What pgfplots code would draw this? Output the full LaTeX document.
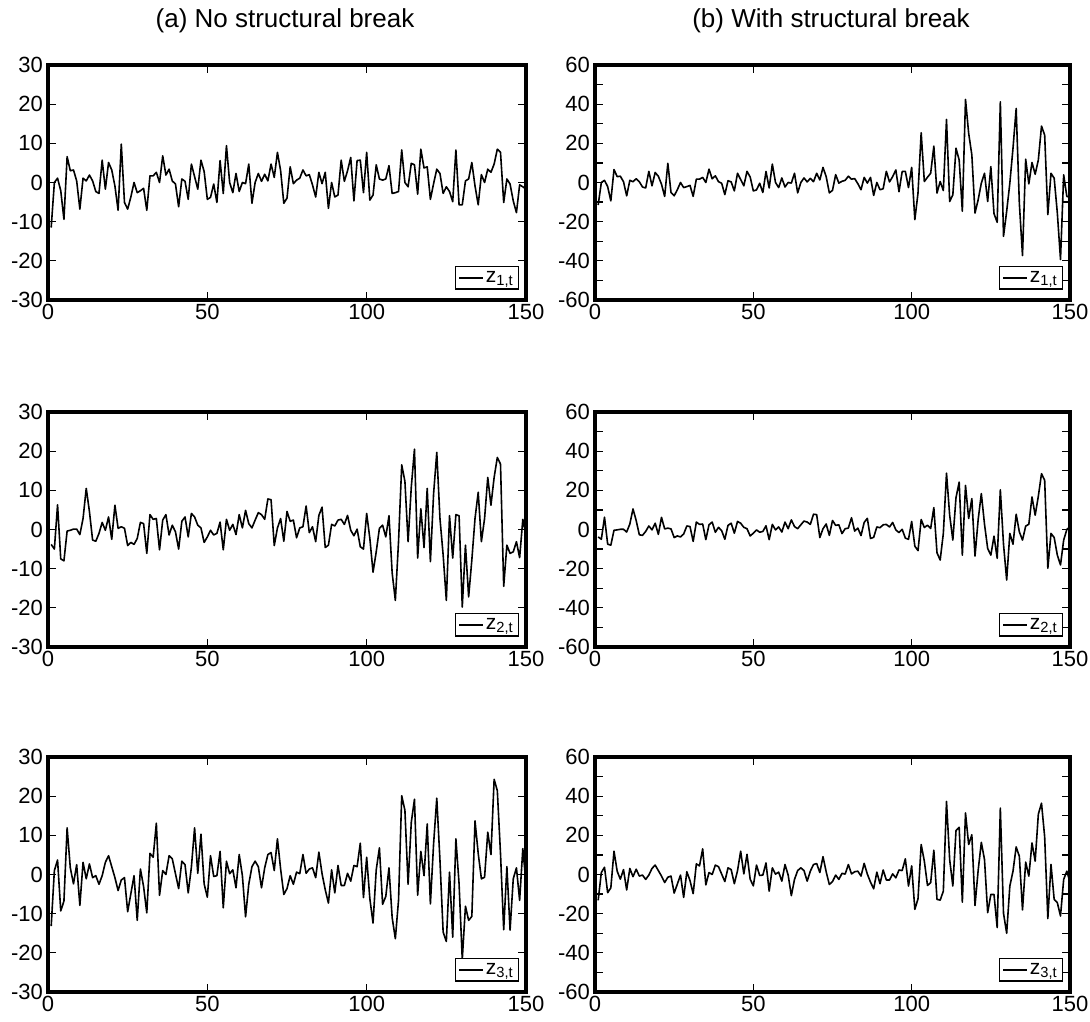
\documentclass[border=0pt]{standalone}
\usepackage{fontspec}
\setmainfont{Liberation Sans}
\usepackage{pgfplots}
\usepackage{pgfplotstable}
\pgfplotsset{compat=1.18}

% t, no-break series a1..a3, break series b1..b3 (b = a up to t = 100)
\pgfplotstableread{
t a1 a2 a3 b1 b2 b3
1 -11.5 -3.8 -13.2 -11.5 -3.8 -13.2
2 0 -5.0 1.0 0 -5.0 1.0
3 1.1 6.3 3.7 1.1 6.3 3.7
4 -2.1 -7.5 -9.3 -2.1 -7.5 -9.3
5 -9.4 -8.0 -6.8 -9.4 -8.0 -6.8
6 6.6 -0.4 11.9 6.6 -0.4 11.9
7 3.0 -0.2 1.7 3.0 -0.2 1.7
8 3.2 0.1 -2.4 3.2 0.1 -2.4
9 0.4 0.1 2.5 0.4 0.1 2.5
10 -6.8 -1.3 -7.9 -6.8 -1.3 -7.9
11 1.1 2.8 3.1 1.1 2.8 3.1
12 0.4 10.5 -1.1 0.4 10.5 -1.1
13 1.9 4.6 2.7 1.9 4.6 2.7
14 0.4 -2.7 -0.8 0.4 -2.7 -0.8
15 -2.3 -3.0 -0.3 -2.3 -3.0 -0.3
16 -2.8 -1.0 -2.5 -2.8 -1.0 -2.5
17 5.7 1.8 -0.3 5.7 1.8 -0.3
18 -1.7 -0.2 3.1 -1.7 -0.2 3.1
19 5.1 3.2 4.8 5.1 3.2 4.8
20 3.2 -2.5 2.0 3.2 -2.5 2.0
21 -0.9 6.2 -0.8 -0.9 6.2 -0.8
22 -7.1 0.3 -4.1 -7.1 0.3 -4.1
23 9.8 0.7 -1.4 9.8 0.7 -1.4
24 -5.1 0.3 -0.8 -5.1 0.3 -0.8
25 -6.8 -4.1 -9.5 -6.8 -4.1 -9.5
26 -3.7 -3.3 -4.9 -3.7 -3.3 -4.9
27 0 -3.8 -0.3 0 -3.8 -0.3
28 -2.6 -2.3 -11.7 -2.6 -2.3 -11.7
29 -2.1 1.8 1.4 -2.1 1.8 1.4
30 -1.5 1.5 -3.1 -1.5 1.5 -3.1
31 -7.1 -6.1 -9.8 -7.1 -6.1 -9.8
32 1.7 3.8 5.4 1.7 3.8 5.4
33 1.7 2.6 4.4 1.7 2.6 4.4
34 2.6 2.8 13.1 2.6 2.8 13.1
35 0 -5.2 -5.3 0 -5.2 -5.3
36 6.8 2.4 1.0 6.8 2.4 1.0
37 1.9 3.8 0 1.9 3.8 0
38 3.4 -1.4 4.8 3.4 -1.4 4.8
39 0.4 1.1 4.0 0.4 1.1 4.0
40 -0.4 -0.6 0.2 -0.4 -0.6 0.2
41 -6.2 -5.0 -3.6 -6.2 -5.0 -3.6
42 0.9 2.1 3.4 0.9 2.1 3.4
43 0.3 3.2 2.5 0.3 3.2 2.5
44 -4.3 -1.9 -4.7 -4.3 -1.9 -4.7
45 4.7 4.1 1.9 4.7 4.1 1.9
46 1.5 3.2 11.9 1.5 3.2 11.9
47 -1.7 1.1 0.3 -1.7 1.1 0.3
48 5.7 0.4 10.3 5.7 0.4 10.3
49 2.8 -3.3 -2.4 2.8 -3.3 -2.4
50 -4.3 -1.9 -5.8 -4.3 -1.9 -5.8
51 -3.8 -0.2 4.8 -3.8 -0.2 4.8
52 -0.4 -1.4 -0.5 -0.4 -1.4 -0.5
53 -5.1 -1.0 -0.3 -5.1 -1.0 -0.3
54 5.6 1.9 5.9 5.6 1.9 5.9
55 -2.8 -5.2 -8.5 -2.8 -5.2 -8.5
56 9.4 2.6 3.4 9.4 2.6 3.4
57 0 -0.2 0.2 0 -0.2 0.2
58 -2.6 1.3 1.2 -2.6 1.3 1.2
59 2.3 -1.3 -3.4 2.3 -1.3 -3.4
60 -2.3 3.8 5.1 -2.3 3.8 5.1
61 0 0.4 -0.3 0 0.4 -0.3
62 -0.3 4.9 -10.8 -0.3 4.9 -10.8
63 4.7 1.5 -2.5 4.7 1.5 -2.5
64 -5.3 0.4 2.0 -5.3 0.4 2.0
65 0 2.4 3.4 0 2.4 3.4
66 2.3 4.3 2.0 2.3 4.3 2.0
67 0.3 3.8 -3.4 0.3 3.8 -3.4
68 2.1 2.6 1.7 2.1 2.6 1.7
69 0.4 7.8 5.1 0.4 7.8 5.1
70 4.7 7.6 5.6 4.7 7.6 5.6
71 1.3 -4.1 1.0 1.3 -4.1 1.0
72 7.7 0.4 9.1 7.7 0.4 9.1
73 3.0 2.8 1.4 3.0 2.8 1.4
74 -5.3 -3.0 -5.1 -5.3 -3.0 -5.1
75 -4.0 4.6 -3.6 -4.0 4.6 -3.6
76 4.0 2.1 -0.3 4.0 2.1 -0.3
77 -0.3 2.4 -2.5 -0.3 2.4 -2.5
78 0.6 -2.1 0.6 0.6 -2.1 0.6
79 1.1 0.4 0.2 1.1 0.4 0.2
80 3.2 0.7 5.1 3.2 0.7 5.1
81 1.7 6.0 0.3 1.7 6.0 0.3
82 2.0 -0.8 1.4 2.0 -0.8 1.4
83 -0.6 0.7 1.7 -0.6 0.7 1.7
84 -3.7 -3.1 -0.8 -3.7 -3.1 -0.8
85 2.6 3.6 5.7 2.6 3.6 5.7
86 -0.3 5.7 0.2 -0.3 5.7 0.2
87 2.6 -4.6 -3.9 2.6 -4.6 -3.9
88 -6.6 -4.0 -7.3 -6.6 -4.0 -7.3
89 0 1.3 1.2 0 1.3 1.2
90 -3.7 0.9 -4.7 -3.7 0.9 -4.7
91 -3.2 2.4 2.3 -3.2 2.4 2.3
92 5.7 2.6 -2.8 5.7 2.6 -2.8
93 0.3 1.3 -2.8 0.3 1.3 -2.8
94 3.0 3.6 0.3 3.0 3.6 0.3
95 6.4 -0.2 -1.7 6.4 -0.2 -1.7
96 -4.7 -1.6 2.3 -4.7 -1.6 2.3
97 5.6 0.1 2.0 5.6 0.1 2.0
98 5.7 -4.4 8.0 5.7 -4.4 8.0
99 -2.6 -5.0 -5.9 -2.6 -5.0 -5.9
100 7.7 4.1 4.4 7.7 4.1 4.4
101 -4.5 -2.3 -6.2 -19.0 -8.5 -17.8
102 -3.2 -10.9 -12.4 -5.4 -10.8 -12.4
103 4.5 -5.7 1.2 25.4 5.1 15.3
104 0.9 0.3 6.8 0.5 1.0 6.8
105 0.6 1.1 -7.6 2.7 2.2 -5.6
106 0.9 -1.9 -5.6 4.7 0.5 -4.2
107 4.3 3.5 1.7 18.6 11.2 12.4
108 -2.8 -11.1 -11.0 -5.4 -11.9 -12.7
109 -2.6 -18.1 -16.4 0.5 -15.6 -13.1
110 -2.3 -3.1 -6.6 -4.1 -2.0 -8.5
111 8.3 16.5 20.1 32.2 28.8 37.3
112 0 12.3 16.4 -9.7 7.3 7.6
113 -1.1 -3.1 -2.5 -6.3 -5.4 -5.9
114 4.9 10.8 13.3 17.5 16.3 22.4
115 4.5 20.5 19.2 11.5 24.2 24.1
116 -3.0 -7.3 -5.3 -14.7 -13.1 -14.1
117 8.5 5.3 5.9 42.4 22.5 31.4
118 3.7 -4.6 -0.3 25.1 5.6 15.3
119 4.0 10.5 12.9 14.1 15.8 20.3
120 -4.3 -8.2 -7.5 -15.6 -13.6 -15.8
121 -0.3 9.1 7.8 -8.8 5.1 2.2
122 3.4 19.7 19.5 -0.3 18.3 16.4
123 2.3 2.8 3.6 4.7 2.7 7.6
124 -2.8 -6.5 -14.7 -9.7 -9.7 -19.5
125 -1.1 -18.1 -17.1 8.1 -13.1 -10.2
126 -2.3 3.5 0.6 -15.9 -3.4 -10.2
127 -4.9 -7.3 -16.0 -20.3 -14.7 -27.1
128 8.3 3.8 9.1 41.2 20.3 33.9
129 -5.7 3.5 -2.4 -27.5 -7.5 -19.8
130 -5.7 -19.8 -21.7 -14.7 -25.8 -30.0
131 0.4 -4.0 -8.1 -0.3 -2.0 -5.9
132 0.9 -17.2 -11.7 17.5 -7.5 1.7
133 5.1 -7.8 -10.7 37.8 7.8 14.1
134 -0.9 2.8 13.7 -10.5 -1.2 9.3
135 -5.7 9.5 5.4 -37.3 -5.4 -18.1
136 2.0 -3.1 -1.1 11.9 1.7 6.3
137 0 2.8 -0.7 -0.7 2.7 -0.8
138 3.4 13.3 10.8 10.2 16.6 16.1
139 2.6 6.2 5.1 4.2 7.3 6.8
140 4.7 13.3 24.3 11.5 17.0 30.8
141 8.5 18.4 21.4 28.8 28.5 36.4
142 7.7 16.7 5.3 24.2 25.1 19.2
143 -5.1 -14.5 -14.1 -16.4 -19.8 -22.5
144 0.9 -4.0 2.0 4.7 -2.0 5.1
145 -0.4 -6.1 -14.2 2.2 -4.1 -12.7
146 -4.7 -5.7 -1.1 -15.6 -13.1 -14.4
147 -7.7 -3.1 1.7 -39.3 -18.1 -21.2
148 -0.6 -7.2 -6.6 3.9 -5.4 -2.5
149 -1.1 2.6 6.6 -7.1 0 1.7
150 -1.7 -1.4 -2.2 -7.5 1.5 -3.9
}\zdata

\pgfplotsset{
  panel/.style={
    scale only axis, height=235pt,
    xmin=0, xmax=150, xtick={0,50,100,150},
    tick align=inside, major tick length=8pt, minor tick length=8pt,
    every tick/.style={black, line width=1.3pt},
    tick label style={font=\fontsize{22}{22}\selectfont},
    /pgf/number format/assume math mode=true,
    yticklabel style={inner xsep=5pt},
    xticklabel style={inner ysep=4pt},
    legend style={at={(1,0)}, anchor=south east, xshift=-7pt, yshift=10pt,
      draw=black, line width=1.5pt, inner xsep=3pt, inner ysep=3pt,
      font=\fontsize{21}{21}\selectfont},
    legend image code/.code={\draw[#1] (0pt,0pt) -- (24pt,0pt);},
    % heavy frame as in the original figure
    after end axis/.code={\draw[black, line width=4pt]
      (rel axis cs:0,0) rectangle (rel axis cs:1,1);},
  },
  leftcol/.style={panel, width=478pt, ymin=-30, ymax=30, ytick={-30,-20,...,30}},
  rightcol/.style={panel, width=475pt, ymin=-60, ymax=60, ytick={-60,-40,...,60},
    minor ytick={-50,-30,-10,10,30,50}},
  series/.style={black, line width=1.6pt, line join=round, no markers},
}

\begin{document}
\begin{tikzpicture}[x=1pt,y=1pt]
\useasboundingbox (0,0) rectangle (1090,1022);

\node[font=\fontsize{26}{26}\selectfont] at (285,1001) {(a) No structural break};
\node[font=\fontsize{26}{26}\selectfont] at (831,1001) {(b) With structural break};

\begin{axis}[leftcol, at={(48pt,722pt)}]
\addplot[series] table[x=t,y=a1]{\zdata};
\addlegendentry{z\textsubscript{1,t}}
\end{axis}
\begin{axis}[rightcol, at={(595pt,722pt)}]
\addplot[series] table[x=t,y=b1]{\zdata};
\addlegendentry{z\textsubscript{1,t}}
\end{axis}

\begin{axis}[leftcol, at={(48pt,375pt)}]
\addplot[series] table[x=t,y=a2]{\zdata};
\addlegendentry{z\textsubscript{2,t}}
\end{axis}
\begin{axis}[rightcol, at={(595pt,375pt)}]
\addplot[series] table[x=t,y=b2]{\zdata};
\addlegendentry{z\textsubscript{2,t}}
\end{axis}

\begin{axis}[leftcol, at={(48pt,30pt)}]
\addplot[series] table[x=t,y=a3]{\zdata};
\addlegendentry{z\textsubscript{3,t}}
\end{axis}
\begin{axis}[rightcol, at={(595pt,30pt)}]
\addplot[series] table[x=t,y=b3]{\zdata};
\addlegendentry{z\textsubscript{3,t}}
\end{axis}
\end{tikzpicture}
\end{document}
